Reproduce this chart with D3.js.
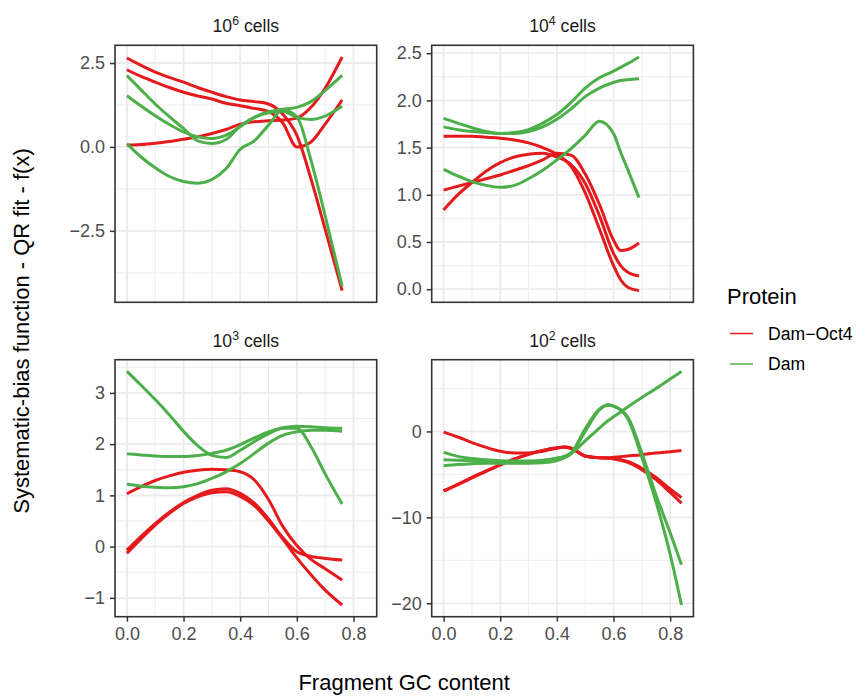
<!DOCTYPE html>
<html>
<head>
<meta charset="utf-8">
<script src="https://cdn.jsdelivr.net/npm/d3@7"></script>
<style>
  body { margin: 0; background: #ffffff; }
  svg { display: block; }
  text { font-family: "Liberation Sans", Arial, Helvetica, sans-serif; }
</style>
</head>
<body>
<svg id="chart" width="860" height="697"></svg>
<script>
// ---- Data: fitted systematic-bias curves per cell number ----
const proteins = ["Dam\u2212Oct4", "Dam"];
const proteinColors = ["#E41A1C", "#4DAF4A"];

// 10^6 cells
const gc1e6 = [0, 0.05, 0.1, 0.15, 0.2, 0.25, 0.3, 0.35, 0.4, 0.45, 0.5, 0.55, 0.6, 0.65, 0.7, 0.76];
const damOct4_1e6 = [
  [2.65, 2.43, 2.23, 2.07, 1.93, 1.77, 1.63, 1.50, 1.40, 1.35, 1.28, 0.98, 0.35, -0.95, -2.45, -4.28],
  [2.30, 2.10, 1.93, 1.77, 1.63, 1.52, 1.43, 1.30, 1.23, 1.15, 1.05, 0.72, 0.00, 0.15, 0.68, 1.40],
  [0.05, 0.07, 0.11, 0.16, 0.23, 0.30, 0.40, 0.52, 0.68, 0.75, 0.78, 0.80, 0.86, 1.18, 1.75, 2.68]
];
const dam_1e6 = [
  [2.13, 1.70, 1.28, 0.90, 0.55, 0.18, 0.10, 0.22, 0.62, 0.88, 1.02, 1.06, 0.88, 0.82, 0.92, 1.21],
  [1.53, 1.22, 0.93, 0.67, 0.45, 0.30, 0.25, 0.35, 0.60, 0.88, 1.05, 1.12, 1.18, 1.35, 1.68, 2.13],
  [0.10, -0.30, -0.62, -0.88, -1.03, -1.08, -0.97, -0.65, -0.07, 0.18, 0.65, 1.10, 0.90, -0.40, -2.05, -4.15]
];
const yTicks1e6 = [-2.5, 0, 2.5];
const yLabels1e6 = ["\u22122.5", "0.0", "2.5"];

// 10^4 cells
const gc1e4 = [0, 0.05, 0.1, 0.15, 0.2, 0.25, 0.3, 0.35, 0.4, 0.45, 0.5, 0.55, 0.6, 0.625, 0.65, 0.69];
const damOct4_1e4 = [
  [1.62, 1.62, 1.62, 1.61, 1.60, 1.58, 1.55, 1.50, 1.43, 1.30, 1.02, 0.64, 0.25, 0.10, 0.02, -0.015],
  [1.05, 1.09, 1.13, 1.17, 1.21, 1.26, 1.31, 1.37, 1.44, 1.42, 1.22, 0.90, 0.52, 0.41, 0.42, 0.49],
  [0.84, 1.00, 1.13, 1.25, 1.34, 1.40, 1.43, 1.44, 1.40, 1.32, 1.12, 0.78, 0.38, 0.25, 0.18, 0.14]
];
const dam_1e4 = [
  [1.81, 1.76, 1.71, 1.67, 1.65, 1.66, 1.69, 1.76, 1.85, 1.98, 2.13, 2.24, 2.31, 2.35, 2.39, 2.46],
  [1.72, 1.69, 1.67, 1.66, 1.65, 1.65, 1.67, 1.72, 1.80, 1.91, 2.04, 2.13, 2.19, 2.21, 2.22, 2.23],
  [1.27, 1.20, 1.14, 1.10, 1.08, 1.10, 1.17, 1.26, 1.37, 1.49, 1.63, 1.78, 1.65, 1.45, 1.27, 0.97]
];
const yTicks1e4 = [0, 0.5, 1, 1.5, 2, 2.5];
const yLabels1e4 = ["0.0", "0.5", "1.0", "1.5", "2.0", "2.5"];

// 10^3 cells
const gc1e3 = [0, 0.05, 0.1, 0.15, 0.2, 0.25, 0.3, 0.35, 0.4, 0.45, 0.5, 0.55, 0.6, 0.65, 0.7, 0.76];
const damOct4_1e3 = [
  [1.03, 1.17, 1.29, 1.38, 1.45, 1.49, 1.51, 1.50, 1.46, 1.30, 0.92, 0.40, 0.02, -0.25, -0.43, -0.65],
  [-0.07, 0.20, 0.45, 0.67, 0.86, 1.00, 1.10, 1.13, 1.04, 0.85, 0.54, 0.18, -0.10, -0.19, -0.23, -0.26],
  [-0.13, 0.15, 0.42, 0.65, 0.84, 0.97, 1.05, 1.07, 0.98, 0.80, 0.50, 0.15, -0.22, -0.55, -0.85, -1.14]
];
const dam_1e3 = [
  [3.42, 3.15, 2.87, 2.57, 2.25, 1.97, 1.78, 1.74, 1.88, 2.05, 2.20, 2.31, 2.31, 1.95, 1.42, 0.83],
  [1.81, 1.79, 1.77, 1.76, 1.76, 1.78, 1.82, 1.88, 1.99, 2.12, 2.24, 2.32, 2.35, 2.34, 2.32, 2.31],
  [1.22, 1.18, 1.16, 1.15, 1.17, 1.23, 1.33, 1.46, 1.62, 1.82, 2.02, 2.17, 2.24, 2.27, 2.27, 2.25]
];
const yTicks1e3 = [-1, 0, 1, 2, 3];
const yLabels1e3 = ["\u22121", "0", "1", "2", "3"];

// 10^2 cells
const gc1e2 = [0, 0.05, 0.1, 0.15, 0.2, 0.25, 0.3, 0.35, 0.4, 0.425, 0.45, 0.5, 0.55, 0.58, 0.6, 0.65, 0.7, 0.75, 0.8, 0.84];
const damOct4_1e2 = [
  [-0.08, -0.65, -1.30, -1.85, -2.30, -2.50, -2.50, -2.30, -1.95, -1.82, -1.95, -2.85, -3.05, -3.10, -3.15, -3.50, -4.30, -5.35, -6.70, -7.70],
  [-6.90, -6.15, -5.35, -4.60, -3.88, -3.20, -2.65, -2.20, -1.90, -1.82, -1.95, -2.85, -3.05, -3.05, -3.00, -2.85, -2.70, -2.50, -2.35, -2.22],
  [-6.95, -6.20, -5.40, -4.65, -3.90, -3.22, -2.67, -2.22, -1.92, -1.84, -1.97, -2.87, -3.07, -3.12, -3.20, -3.60, -4.45, -5.60, -7.10, -8.35]
];
const dam_1e2 = [
  [-2.44, -2.90, -3.15, -3.30, -3.40, -3.45, -3.45, -3.35, -3.10, -2.90, -2.55, -1.10, 0.40, 1.25, 1.70, 2.85, 3.95, 5.00, 6.10, 6.99],
  [-3.30, -3.35, -3.40, -3.45, -3.50, -3.50, -3.50, -3.45, -3.20, -2.95, -2.50, 0.30, 2.60, 3.05, 2.95, 1.70, -2.50, -7.40, -11.80, -15.50],
  [-4.00, -3.85, -3.75, -3.70, -3.70, -3.70, -3.70, -3.65, -3.40, -3.10, -2.60, 0.00, 2.50, 3.10, 2.95, 1.50, -3.00, -8.20, -14.30, -20.20]
];
const yTicks1e2 = [-20, -10, 0];
const yLabels1e2 = ["\u221220", "\u221210", "0"];

// shared x axis
const xTicks = [0, 0.2, 0.4, 0.6, 0.8];
const xLabels = ["0.0", "0.2", "0.4", "0.6", "0.8"];

const facetExponents = ["6", "4", "3", "2"];

// ---- Layout ----
const svg = d3.select("#chart");
const panelW = 261.7, panelH = 257;
const colLeft = [115, 431.7];
const rowTop = [45.3, 359.7];

const fontTick = 18;
const fontStrip = 17.6;
const fontTitle = 22;

const facets = [
  { exp: facetExponents[0], gc: gc1e6, series: [damOct4_1e6, dam_1e6], yTicks: yTicks1e6, yLabels: yLabels1e6, col: 0, row: 0 },
  { exp: facetExponents[1], gc: gc1e4, series: [damOct4_1e4, dam_1e4], yTicks: yTicks1e4, yLabels: yLabels1e4, col: 1, row: 0 },
  { exp: facetExponents[2], gc: gc1e3, series: [damOct4_1e3, dam_1e3], yTicks: yTicks1e3, yLabels: yLabels1e3, col: 0, row: 1 },
  { exp: facetExponents[3], gc: gc1e2, series: [damOct4_1e2, dam_1e2], yTicks: yTicks1e2, yLabels: yLabels1e2, col: 1, row: 1 }
];

// expand a [min, max] range by 5% on each side
function expand(ext, f = 0.05) {
  const d = (ext[1] - ext[0]) * f;
  return [ext[0] - d, ext[1] + d];
}

// minor breaks halfway between majors, kept inside the visible range
function minorBreaks(ticks, domain) {
  const step = ticks[1] - ticks[0];
  const out = [];
  for (let v = ticks[0] - step / 2; v <= ticks[ticks.length - 1] + step / 2 + 1e-9; v += step) {
    if (v >= domain[0] && v <= domain[1]) out.push(v);
  }
  return out;
}

const allGC = facets.flatMap(f => f.gc);
const xDomain = expand(d3.extent(allGC));

facets.forEach(f => {
  const left = colLeft[f.col], top = rowTop[f.row];
  const g = svg.append("g").attr("transform", `translate(${left},${top})`);

  const x = d3.scaleLinear().domain(xDomain).range([0, panelW]);
  const allY = f.series.flat(2);
  const yDomain = expand(d3.extent(allY));
  const y = d3.scaleLinear().domain(yDomain).range([panelH, 0]);

  g.append("rect").attr("width", panelW).attr("height", panelH).attr("fill", "#ffffff");

  // grid: minor first, then major
  const xMinor = minorBreaks(xTicks, xDomain);
  const yMinor = minorBreaks(f.yTicks, yDomain);
  g.selectAll(".xminor").data(xMinor).join("line")
    .attr("x1", d => x(d)).attr("x2", d => x(d)).attr("y1", 0).attr("y2", panelH)
    .attr("stroke", "#EBEBEB").attr("stroke-width", 0.9);
  g.selectAll(".yminor").data(yMinor).join("line")
    .attr("y1", d => y(d)).attr("y2", d => y(d)).attr("x1", 0).attr("x2", panelW)
    .attr("stroke", "#EBEBEB").attr("stroke-width", 0.9);
  g.selectAll(".xmajor").data(xTicks).join("line")
    .attr("x1", d => x(d)).attr("x2", d => x(d)).attr("y1", 0).attr("y2", panelH)
    .attr("stroke", "#EBEBEB").attr("stroke-width", 1.8);
  g.selectAll(".ymajor").data(f.yTicks).join("line")
    .attr("y1", d => y(d)).attr("y2", d => y(d)).attr("x1", 0).attr("x2", panelW)
    .attr("stroke", "#EBEBEB").attr("stroke-width", 1.8);

  // curves: Dam-Oct4 first, Dam on top
  const line = d3.line().x(d => x(d[0])).y(d => y(d[1])).curve(d3.curveMonotoneX);
  f.series.forEach((reps, pi) => {
    reps.forEach(vals => {
      g.append("path")
        .datum(f.gc.map((gx, i) => [gx, vals[i]]))
        .attr("d", line)
        .attr("fill", "none")
        .attr("stroke", proteinColors[pi])
        .attr("stroke-width", 3)
        .attr("stroke-linejoin", "round")
        .attr("stroke-linecap", "butt");
    });
  });

  // panel border
  g.append("rect").attr("width", panelW).attr("height", panelH)
    .attr("fill", "none").attr("stroke", "#333333").attr("stroke-width", 1.6);

  // y axis
  const yAxis = g.append("g").call(
    d3.axisLeft(y).tickValues(f.yTicks).tickFormat((d, i) => f.yLabels[i])
      .tickSize(5).tickPadding(5)
  );
  yAxis.select(".domain").remove();
  yAxis.selectAll(".tick line").attr("stroke", "#333333").attr("stroke-width", 1.5);
  yAxis.selectAll(".tick text").attr("fill", "#4D4D4D").attr("font-size", fontTick)
    .attr("font-family", "'Liberation Sans', Arial, sans-serif");

  // x axis only on the bottom row
  if (f.row === 1) {
    const xAxis = g.append("g").attr("transform", `translate(0,${panelH})`).call(
      d3.axisBottom(x).tickValues(xTicks).tickFormat((d, i) => xLabels[i])
        .tickSize(5).tickPadding(6)
    );
    xAxis.select(".domain").remove();
    xAxis.selectAll(".tick line").attr("stroke", "#333333").attr("stroke-width", 1.5);
    xAxis.selectAll(".tick text").attr("fill", "#4D4D4D").attr("font-size", fontTick)
      .attr("font-family", "'Liberation Sans', Arial, sans-serif");
  }

  // strip label: 10^n cells
  const strip = g.append("text")
    .attr("x", panelW / 2).attr("y", -13)
    .attr("text-anchor", "middle")
    .attr("font-size", fontStrip).attr("fill", "#1A1A1A");
  strip.append("tspan").text("10");
  strip.append("tspan").attr("font-size", 12.3).attr("dy", -7).text(f.exp);
  strip.append("tspan").attr("dy", 7).text(" cells");
});

// axis titles
svg.append("text")
  .attr("x", (colLeft[0] + colLeft[1] + panelW) / 2).attr("y", 690)
  .attr("text-anchor", "middle").attr("font-size", fontTitle).attr("fill", "#000000")
  .text("Fragment GC content");

svg.append("text")
  .attr("transform", `translate(29,${(rowTop[0] + rowTop[1] + panelH) / 2}) rotate(-90)`)
  .attr("text-anchor", "middle").attr("font-size", fontTitle).attr("fill", "#000000")
  .text("Systematic-bias function - QR fit - f(x)");

// legend
const legend = svg.append("g").attr("transform", "translate(727,0)");
legend.append("text").attr("x", 0).attr("y", 304)
  .attr("font-size", fontTitle).attr("fill", "#000000").text("Protein");
proteins.forEach((p, i) => {
  const ly = 333.5 + i * 30.5;
  legend.append("line").attr("x1", 3).attr("x2", 26).attr("y1", ly).attr("y2", ly)
    .attr("stroke", proteinColors[i]).attr("stroke-width", 1.5);
  legend.append("text").attr("x", 41).attr("y", ly).attr("dy", "0.35em")
    .attr("font-size", fontStrip).attr("fill", "#000000").text(p);
});
</script>
</body>
</html>
